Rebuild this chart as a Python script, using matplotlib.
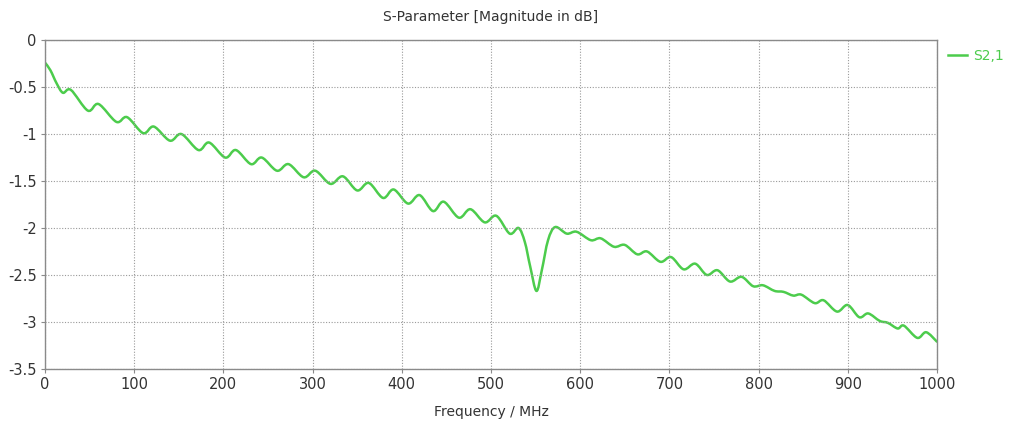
import numpy as np
import matplotlib
matplotlib.use('Agg')
import matplotlib.pyplot as plt
from matplotlib.path import Path
from matplotlib.patches import PathPatch
from matplotlib.lines import Line2D

# S2,1 (ripple peaks / troughs and the notch near 550 MHz)
freq_mhz = [0, 6, 13, 20, 29, 48, 60, 80, 92, 110, 122, 140, 153, 172, 184, 202, 214,
            231, 243, 260, 273, 290, 303, 320, 334, 350, 363, 379, 391, 407, 420, 435,
            447, 464, 477, 493, 506, 521, 531, 538, 544, 551, 557, 564, 572, 585, 596,
            612, 623, 638, 650, 664, 675, 690, 702, 716, 729, 742, 754, 768, 781, 794,
            805, 818, 828, 839, 848, 863, 873, 888, 900, 913, 923, 936, 945, 956, 963,
            978, 988, 1000]
s21_db = [-0.24, -0.32, -0.46, -0.56, -0.53, -0.75, -0.68, -0.87, -0.82, -0.99, -0.92,
          -1.07, -1.00, -1.17, -1.09, -1.25, -1.17, -1.32, -1.25, -1.39, -1.32, -1.46,
          -1.39, -1.53, -1.45, -1.60, -1.52, -1.68, -1.59, -1.74, -1.65, -1.82, -1.72,
          -1.89, -1.80, -1.94, -1.87, -2.06, -2.00, -2.15, -2.41, -2.67, -2.45, -2.13,
          -1.99, -2.06, -2.04, -2.13, -2.11, -2.20, -2.18, -2.28, -2.25, -2.36, -2.31,
          -2.44, -2.38, -2.50, -2.45, -2.57, -2.52, -2.62, -2.61, -2.67, -2.68, -2.72,
          -2.71, -2.80, -2.77, -2.89, -2.82, -2.95, -2.91, -2.99, -3.01, -3.07, -3.04,
          -3.17, -3.11, -3.21]

xticks = list(range(0, 1001, 100))
yticks = [0, -0.5, -1, -1.5, -2, -2.5, -3, -3.5]
ytick_labels = ['0', '-0.5', '-1', '-1.5', '-2', '-2.5', '-3', '-3.5']

green = '#4ccc4c'
txt = '#333333'
edge = '#8a8a8a'


def smooth_path(x, y):
    # catmull-rom drawn as bezier segments, in data coords
    p = np.column_stack([x, y]).astype(float)
    verts = [p[0]]
    codes = [Path.MOVETO]
    n = len(p)
    for i in range(n - 1):
        p0 = p[i - 1] if i > 0 else p[i]
        p3 = p[i + 2] if i + 2 < n else p[i + 1]
        c1 = p[i] + (p[i + 1] - p0) / 6
        c2 = p[i + 1] - (p3 - p[i]) / 6
        verts += [c1, c2, p[i + 1]]
        codes += [Path.CURVE4] * 3
    return Path(verts, codes)


fig = plt.figure(figsize=(10.1, 4.23), dpi=100)
ax = fig.add_axes([0.0446, 0.128, 0.883, 0.777])

ax.add_patch(PathPatch(smooth_path(freq_mhz, s21_db), fill=False,
                       edgecolor=green, lw=1.8, capstyle='round', joinstyle='round'))

ax.set_xlim(0, 1000)
ax.set_ylim(-3.5, 0)
ax.set_xticks(xticks)
ax.set_yticks(yticks)
ax.set_yticklabels(ytick_labels)
ax.grid(True, color='#9a9a9a', linestyle=(0, (1, 1.5)), lw=0.8)
for s in ax.spines.values():
    s.set_color(edge)
    s.set_linewidth(1.0)
ax.tick_params(colors=edge, labelcolor=txt, labelsize=10.5, length=3, width=0.8, pad=3)

ax.set_title('S-Parameter [Magnitude in dB]', fontsize=10, color=txt, pad=14)
ax.set_xlabel('Frequency / MHz', fontsize=10, color=txt, labelpad=9)

handle = Line2D([], [], color=green, lw=1.8)
ax.legend([handle], ['S2,1'], loc='upper left', bbox_to_anchor=(1.003, 1.0),
          frameon=False, handlelength=1.4, handletextpad=0.4,
          labelcolor=green, fontsize=10, borderaxespad=0.2)

fig.savefig('out.png', dpi=100, facecolor='white')
